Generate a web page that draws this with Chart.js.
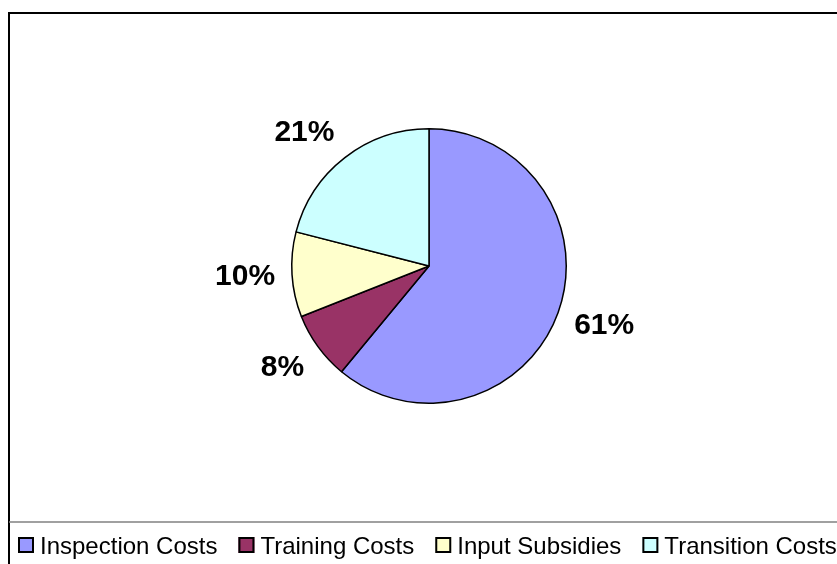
<!DOCTYPE html>
<html>
<head>
<meta charset="utf-8">
<script src="https://cdn.jsdelivr.net/npm/chart.js@4.4.1/dist/chart.umd.min.js"></script>
<style>
  html, body { margin: 0; padding: 0; background: #fff; overflow: hidden; }
  .wrap { width: 837px; height: 564px; position: relative; }
</style>
</head>
<body>
<div class="wrap"><canvas id="costChart" width="837" height="564"></canvas></div>
<script>
// data
const categories = ['Inspection Costs', 'Training Costs', 'Input Subsidies', 'Transition Costs']
const shares = [61, 8, 10, 21]
const sliceColors = ['#9999FF', '#993366', '#FFFFCC', '#CCFFFF']

const FONT = '"Liberation Sans", Arial, sans-serif'

// frame + legend strip, like the old spreadsheet chart
const framePlugin = {
    id: 'frame',
    beforeDraw(chart) {
        const ctx = chart.ctx
        ctx.save()
        ctx.fillStyle = '#fff'
        ctx.fillRect(0, 0, chart.width, chart.height)
        ctx.strokeStyle = '#000'
        ctx.lineWidth = 2
        ctx.beginPath()
        ctx.moveTo(9, chart.height)
        ctx.lineTo(9, 13)
        ctx.lineTo(chart.width, 13)
        ctx.stroke()
        ctx.strokeStyle = '#808080'
        ctx.lineWidth = 1.5
        ctx.beginPath()
        ctx.moveTo(9, 522)
        ctx.lineTo(chart.width, 522)
        ctx.stroke()
        ctx.restore()
    }
}

// percent labels outside each slice (box corner sits just past the rim)
const pctLabels = {
    id: 'pctLabels',
    afterDatasetsDraw(chart) {
        const ctx = chart.ctx
        const meta = chart.getDatasetMeta(0)
        const total = shares.reduce((a, b) => a + b, 0)
        const clamp = v => Math.max(-1, Math.min(1, v))
        ctx.save()
        ctx.font = 'bold 30px ' + FONT
        ctx.fillStyle = '#000'
        ctx.textAlign = 'center'
        ctx.textBaseline = 'middle'
        meta.data.forEach(function (arc, i) {
            const mid = (arc.startAngle + arc.endAngle) / 2
            const dx = Math.cos(mid)
            const dy = Math.sin(mid)
            const txt = Math.round(shares[i] / total * 100) + '%'
            const w = ctx.measureText(txt).width
            const r0 = arc.outerRadius + 17
            const x = arc.x + dx * r0 + clamp(dx * 2) * w / 2
            const y = arc.y + dy * r0 + clamp(dy * 2) * 11
            ctx.fillText(txt, x, y)
        })
        ctx.restore()
    }
}

// legend drawn in one row, runs off the right edge like the original
const rowLegend = {
    id: 'rowLegend',
    afterDraw(chart) {
        const ctx = chart.ctx
        ctx.save()
        ctx.font = '24px ' + FONT
        ctx.textBaseline = 'alphabetic'
        let x = 18
        categories.forEach(function (name, i) {
            ctx.fillStyle = sliceColors[i]
            ctx.fillRect(x, 537, 16, 16)
            ctx.strokeStyle = '#000'
            ctx.lineWidth = 2
            ctx.strokeRect(x + 1, 538, 14, 14)
            ctx.fillStyle = '#000'
            ctx.fillText(name, x + 22, 554)
            x += 22 + ctx.measureText(name).width + 21
        })
        ctx.restore()
    }
}

new Chart(document.getElementById('costChart'), {
    type: 'pie',
    data: {
        labels: categories,
        datasets: [{
            data: shares,
            backgroundColor: sliceColors,
            borderColor: '#000',
            borderWidth: 1.5,
            hoverOffset: 0,
            offset: 0
        }]
    },
    options: {
        responsive: false,
        animation: false,
        rotation: 0,
        layout: {
            padding: { left: 291, right: 270, top: 128, bottom: 160 }
        },
        plugins: {
            legend: { display: false },
            tooltip: { enabled: false }
        }
    },
    plugins: [framePlugin, pctLabels, rowLegend]
});
</script>
</body>
</html>
